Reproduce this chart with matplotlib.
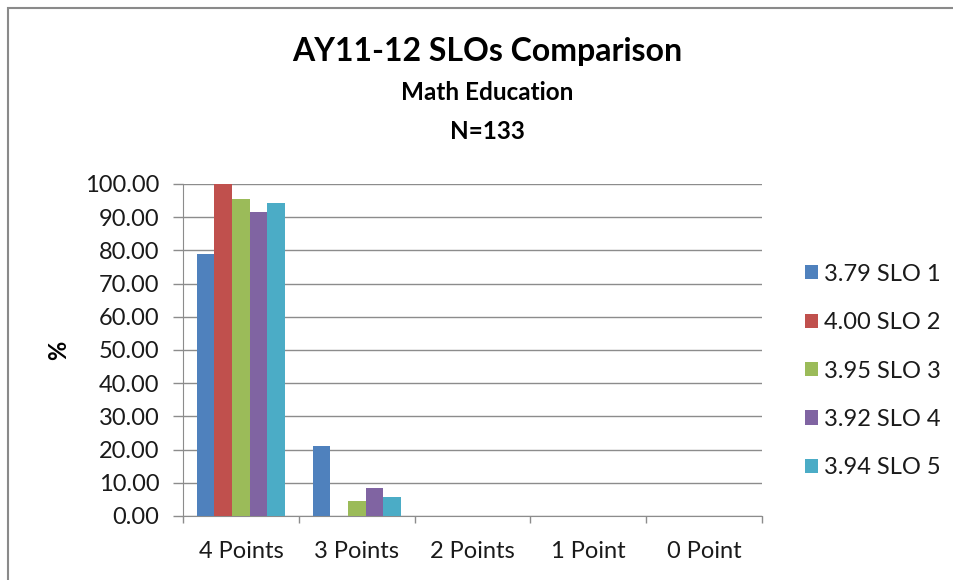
import matplotlib
matplotlib.use("Agg")
import matplotlib.pyplot as plt
import numpy as np
from matplotlib.patches import Rectangle

categories = ["4 Points", "3 Points", "2 Points", "1 Point", "0 Point"]
series_names = ["3.79 SLO 1", "4.00 SLO 2", "3.95 SLO 3", "3.92 SLO 4", "3.94 SLO 5"]
slo1 = [78.9, 21.1, 0, 0, 0]
slo2 = [100.0, 0, 0, 0, 0]
slo3 = [95.5, 4.5, 0, 0, 0]
slo4 = [91.7, 8.3, 0, 0, 0]
slo5 = [94.2, 5.8, 0, 0, 0]
yticks = [0, 10, 20, 30, 40, 50, 60, 70, 80, 90, 100]

colors = ["#4F81BD", "#C0504D", "#9BBB59", "#8064A2", "#4BACC6"]
series = [slo1, slo2, slo3, slo4, slo5]

plt.rcParams['font.family'] = ['Lato', 'DejaVu Sans']

fig = plt.figure(figsize=(9.54, 5.8), dpi=100)
fig.patch.set_facecolor("white")
# chart border (cut at right and bottom)
fig.add_artist(Rectangle((8/954, -0.1), 1.2, 1 - 8/580 + 0.1, transform=fig.transFigure,
                         fill=False, edgecolor="#8a8a8a", linewidth=1.5))

ax = fig.add_axes([183/954, 1 - 516/580, (762 - 183)/954, (516 - 184)/580])
x = np.arange(len(categories))
bw = 0.152
for i, (vals, c, name) in enumerate(zip(series, colors, series_names)):
    ax.bar(x - 2 * bw + i * bw, vals, width=bw, color=c, label=name, zorder=3,
           linewidth=0)

ax.set_xlim(-0.5, len(categories) - 0.5)
ax.set_ylim(0, 100)
ax.set_yticks(yticks)
ax.set_yticklabels([f"{v:.2f}" for v in yticks], fontsize=17, color="#1a1a1a")
ax.yaxis.grid(True, color="#8c8c8c", linewidth=1, zorder=0)
ax.set_axisbelow(True)

ax.set_xticks(x)
ax.set_xticklabels(categories, fontsize=17, color="#1a1a1a")
ax.tick_params(axis="x", length=0, pad=18)
ax.set_xticks(np.arange(-0.5, len(categories)), minor=True)
ax.tick_params(axis="x", which="minor", length=5, color="#8c8c8c", width=1)
ax.tick_params(axis="y", length=7, color="#8c8c8c", width=1, pad=10)

for s in ["top", "right"]:
    ax.spines[s].set_visible(False)
ax.spines["left"].set_color("#8c8c8c")
ax.spines["bottom"].set_color("#8c8c8c")

ax.set_ylabel("%", fontsize=17, fontweight="bold", labelpad=11)

fig.text(487/954, 1 - 52/580, "AY11-12 SLOs Comparison", ha="center", va="center",
         fontsize=23, fontweight="bold")
fig.text(487/954, 1 - 93/580, "Math Education", ha="center", va="center",
         fontsize=17.5, fontweight="bold")
fig.text(487/954, 1 - 131/580, "N=133", ha="center", va="center",
         fontsize=17.5, fontweight="bold")

leg = ax.legend(loc="center left", bbox_to_anchor=(795.5/954, 1 - 371/580),
                bbox_transform=fig.transFigure, frameon=False, fontsize=17,
                handlelength=0.55, handleheight=0.55, handletextpad=0.25,
                labelspacing=1.16, borderaxespad=0)
for t in leg.get_texts():
    t.set_color("#1a1a1a")

fig.savefig("out.png", dpi=100)
